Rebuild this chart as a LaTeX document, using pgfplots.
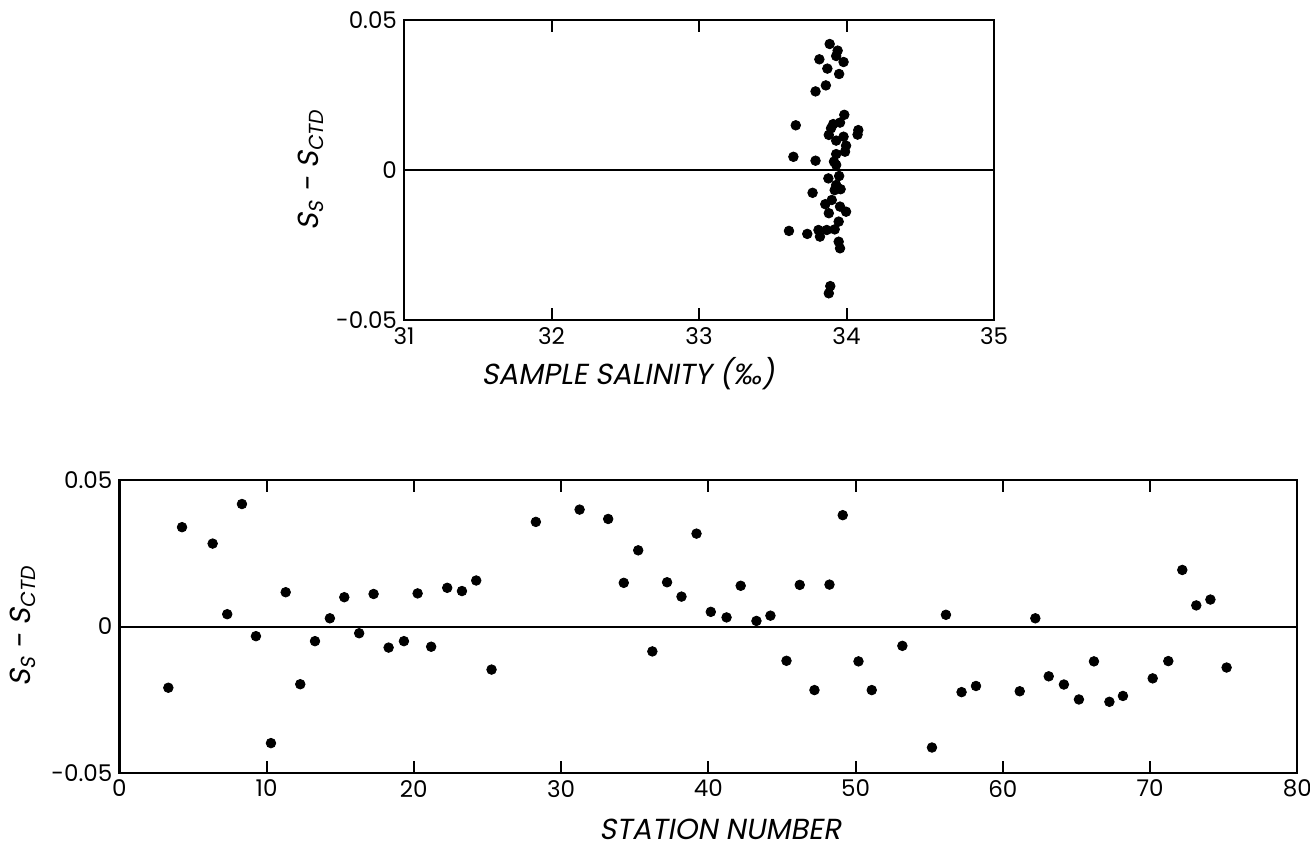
\documentclass[border=0pt]{standalone}
\usepackage{fontspec}
\setmainfont{Poppins}
\newfontfamily\slantfont[FakeSlant=0.18]{Poppins}
\usepackage{pgfplots}
\pgfplotsset{compat=1.18}

% S_s - S_ctd against sample salinity
\pgfplotstableread{
sal   diff
33.886  0.0420
33.940  0.0398
33.930  0.0380
33.816  0.0369
33.980  0.0360
33.870  0.0338
33.950  0.0320
33.860  0.0282
33.790  0.0262
33.985  0.0184
33.656  0.0149
33.910  0.0153
33.956  0.0158
33.895  0.0139
34.080  0.0133
34.075  0.0118
33.880  0.0117
33.980  0.0111
33.930  0.0098
33.997  0.0081
33.990  0.0061
33.640  0.0044
33.790  0.0031
33.930  0.0053
33.915  0.0028
33.930  0.0017
33.877 -0.0028
33.950 -0.0020
33.930 -0.0050
33.960 -0.0064
33.920 -0.0067
33.770 -0.0076
33.900 -0.0100
33.856 -0.0114
33.956 -0.0122
33.997 -0.0139
33.880 -0.0144
33.947 -0.0172
33.610 -0.0203
33.734 -0.0213
33.810 -0.0200
33.866 -0.0200
33.820 -0.0222
33.920 -0.0198
33.947 -0.0239
33.956 -0.0261
33.890 -0.0387
33.880 -0.0411
}\salinity

% S_s - S_ctd against station number
\pgfplotstableread{
stn   diff
3.33 -0.0209
4.26  0.0339
6.34  0.0283
7.33  0.0042
8.33  0.0418
9.28 -0.0033
10.30 -0.0398
11.30  0.0117
12.29 -0.0197
13.29 -0.0050
14.30  0.0028
15.28  0.0100
16.29 -0.0023
17.27  0.0111
18.29 -0.0072
19.33 -0.0050
20.26  0.0113
21.18 -0.0069
22.27  0.0132
23.27  0.0121
24.24  0.0157
25.28 -0.0147
28.29  0.0357
31.26  0.0399
33.20  0.0367
34.26  0.0149
35.24  0.0260
36.20 -0.0085
37.20  0.0151
38.18  0.0102
39.20  0.0317
40.17  0.0050
41.24  0.0031
42.20  0.0139
43.27  0.0019
44.22  0.0037
45.31 -0.0117
46.21  0.0142
47.21 -0.0217
48.23  0.0143
49.13  0.0380
50.20 -0.0119
51.10 -0.0217
53.18 -0.0066
55.19 -0.0413
56.14  0.0040
57.20 -0.0224
58.18 -0.0203
61.15 -0.0221
62.21  0.0028
63.12 -0.0170
64.15 -0.0198
65.17 -0.0249
66.19 -0.0119
67.24 -0.0257
68.16 -0.0237
70.18 -0.0177
71.24 -0.0118
72.19  0.0193
73.14  0.0072
74.10  0.0092
75.20 -0.0140
}\station

\pgfplotsset{
  salplot/.style={
    scale only axis,
    axis line style={line width=1.2pt},
    tick align=inside,
    major tick length=6pt,
    xtick style={line width=1pt, black},
    ytick style={draw=none},
    ymin=-0.05, ymax=0.05,
    ytick={-0.05,0,0.05},
    yticklabels={-0.05,0,0.05},
    scaled y ticks=false,
    scaled x ticks=false,
    tick label style={font=\fontsize{11.5}{12}\selectfont},
    label style={font=\fontsize{14.5}{16}\selectfont\slantfont},
    ylabel={S\textsubscript{S} - S\textsubscript{CTD}},
  },
  dots/.style={only marks, mark=*, mark size=2.4pt, black},
}

\begin{document}
\begin{tikzpicture}
\begin{axis}[salplot,
  at={(202pt,263.5pt)}, anchor=south west,
  width=295pt, height=150pt,
  xmin=31, xmax=35,
  xtick={31,32,33,34,35},
  xticklabels={31,32,33,34,35},
  xlabel={SAMPLE SALINITY (‰)},
  xlabel style={at={(axis description cs:0.38,-0.18)}, anchor=center},
  ylabel style={at={(axis description cs:-0.158,0.5)}, anchor=center},
]
\addplot[black, line width=1pt, no marks] coordinates {(31,0) (35,0)};
\addplot[dots] table[x=sal, y=diff] {\salinity};
\end{axis}

\begin{axis}[salplot,
  at={(59.65pt,37pt)}, anchor=south west,
  width=589pt, height=146.5pt,
  xmin=0, xmax=80,
  xtick={0,10,...,80},
  xticklabels={0,10,20,30,40,50,60,70,80},
  xlabel={STATION NUMBER},
  xlabel style={at={(axis description cs:0.51,-0.192)}, anchor=center},
  ylabel style={at={(axis description cs:-0.082,0.5)}, anchor=center},
]
\addplot[black, line width=1pt, no marks] coordinates {(0,0) (80,0)};
\addplot[dots] table[x=stn, y=diff] {\station};
\end{axis}
\pgfresetboundingbox
\path (0pt,0pt) rectangle (655pt,423.5pt);
\end{tikzpicture}
\end{document}
